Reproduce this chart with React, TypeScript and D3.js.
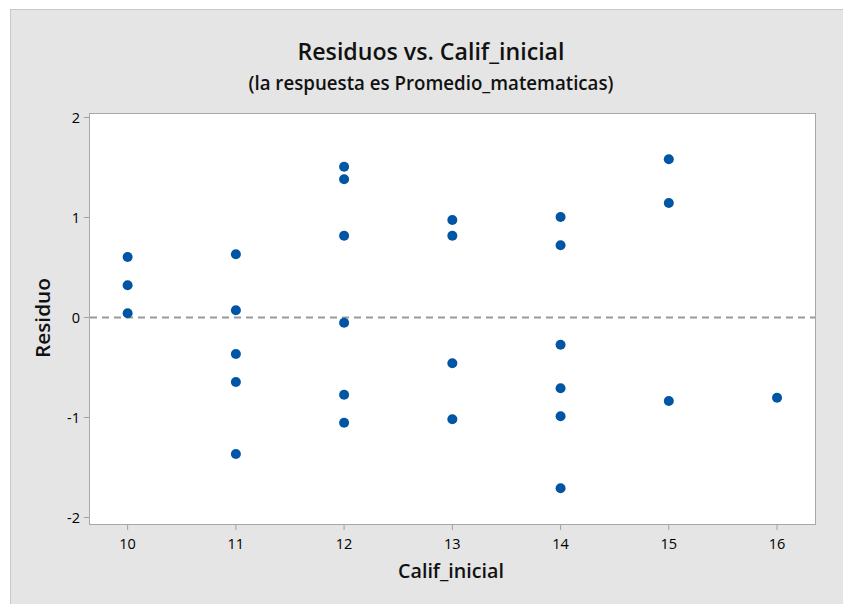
import React from "react";
import * as d3 from "d3";

const calif10 = [0.605, 0.322, 0.042];
const calif11 = [0.632, 0.072, -0.365, -0.645, -1.365];
const calif12 = [1.508, 1.382, 0.818, -0.052, -0.772, -1.052];
const calif13 = [0.975, 0.818, -0.458, -1.018];
const calif14 = [1.005, 0.722, -0.272, -0.708, -0.988, -1.708];
const calif15 = [1.582, 1.145, -0.835];
const calif16 = [-0.802];

const groups: [number, number[]][] = [
  [10, calif10], [11, calif11], [12, calif12], [13, calif13],
  [14, calif14], [15, calif15], [16, calif16],
];
const xTicks = [10, 11, 12, 13, 14, 15, 16];
const yTicks = [-2, -1, 0, 1, 2];

const W = 843, H = 604;
const plotL = 89, plotR = 816, plotT = 113, plotB = 524;
const font = "'Open Sans', 'Noto Sans', sans-serif";

export default function App() {
  const x = d3.scaleLinear().domain([9.643, 16.36]).range([plotL, plotR]);
  const y = d3.scaleLinear().domain([-2.065, 2.045]).range([plotB, plotT]);
  const pts = groups.flatMap(([cx, vals]) => vals.map((v) => ({ cx, v })));
  return (
    <svg width={W} height={H} style={{ position: "absolute", left: 0, top: 0 }}>
      <rect x={0} y={0} width={W} height={H} fill="#ffffff" />
      <rect x={10.5} y={9.5} width={W} height={H} fill="#e5e5e5" stroke="#c8c8c8" strokeWidth={1} />
      <text x={431} y={60} textAnchor="middle" fontFamily={font} fontSize={24} fontWeight={600} fill="#111" textLength={267} lengthAdjust="spacingAndGlyphs">Residuos vs. Calif_inicial</text>
      <text x={431} y={90} textAnchor="middle" fontFamily={font} fontSize={19} fontWeight={600} fill="#111" textLength={365} lengthAdjust="spacingAndGlyphs">(la respuesta es Promedio_matematicas)</text>
      <rect x={plotL + 0.5} y={plotT + 0.5} width={plotR - plotL - 1} height={plotB - plotT} fill="#ffffff" stroke="#a8a8a8" strokeWidth={1} />
      {yTicks.map((t) => (
        <g key={"y" + t}>
          <line x1={plotL - 5} x2={plotL} y1={y(t)} y2={y(t)} stroke="#a0a0a0" />
          <text x={plotL - 9} y={y(t)} dy="0.36em" textAnchor="end" fontFamily={font} fontSize={14.5} fill="#000">{t}</text>
        </g>
      ))}
      {xTicks.map((t) => (
        <g key={"x" + t}>
          <line x1={x(t)} x2={x(t)} y1={plotB + 1} y2={plotB + 6} stroke="#a0a0a0" />
          <text x={x(t)} y={plotB + 25} textAnchor="middle" fontFamily={font} fontSize={14.5} fill="#000">{t}</text>
        </g>
      ))}
      <line x1={plotL + 1} x2={plotR - 1} y1={y(0)} y2={y(0)} stroke="#999" strokeWidth={2} strokeDasharray="7,5" />
      {pts.map((p, i) => (
        <circle key={i} cx={x(p.cx)} cy={y(p.v)} r={5} fill="#0055a5" />
      ))}
      <text x={451} y={578} textAnchor="middle" fontFamily={font} fontSize={19.5} fontWeight={600} fill="#111" textLength={106} lengthAdjust="spacingAndGlyphs">Calif_inicial</text>
      <text transform={`translate(50,318) rotate(-90)`} textAnchor="middle" fontFamily={font} fontSize={19.5} fontWeight={600} fill="#111" textLength={80} lengthAdjust="spacingAndGlyphs">Residuo</text>
    </svg>
  );
}
